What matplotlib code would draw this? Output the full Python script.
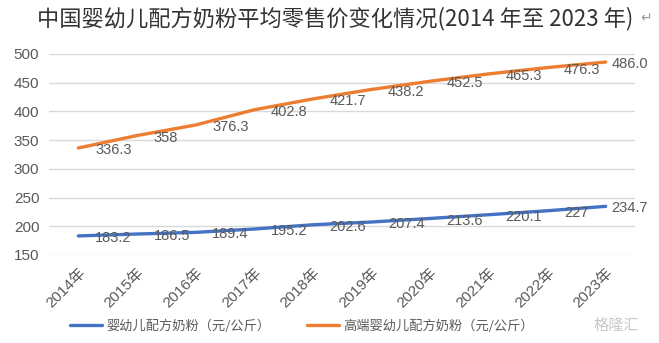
import matplotlib
matplotlib.use("Agg")
import matplotlib.pyplot as plt
import numpy as np

plt.rcParams['font.family'] = ['Liberation Sans', 'Noto Sans CJK SC', 'DejaVu Sans']

# 2014-2023 年均零售价（元/公斤）
years = ['2014年', '2015年', '2016年', '2017年', '2018年',
         '2019年', '2020年', '2021年', '2022年', '2023年']
infant = [183.2, 186.5, 189.4, 195.2, 202.6, 207.4, 213.6, 220.1, 227, 234.7]
premium = [336.3, 358, 376.3, 402.8, 421.7, 438.2, 452.5, 465.3, 476.3, 486.0]
infant_text = ['183.2', '186.5', '189.4', '195.2', '202.6',
               '207.4', '213.6', '220.1', '227', '234.7']
premium_text = ['336.3', '358', '376.3', '402.8', '421.7',
                '438.2', '452.5', '465.3', '476.3', '486.0']
series_names = ['婴幼儿配方奶粉（元/公斤）', '高端婴幼儿配方奶粉（元/公斤）']
yticks = [150, 200, 250, 300, 350, 400, 450, 500]

blue = '#4472C4'
orange = '#ED7D31'
gray = '#595959'

fig = plt.figure(figsize=(6.59, 3.43), dpi=100)
ax = fig.add_axes([0.0744, 0.2566, 0.8892, 0.586])

x = np.arange(len(years))
l1, = ax.plot(x, infant, color=blue, lw=2.4, solid_capstyle='round',
              solid_joinstyle='round', zorder=3)
l2, = ax.plot(x, premium, color=orange, lw=2.4, solid_capstyle='round',
              solid_joinstyle='round', zorder=3)

# 数据标签，放在点的右侧
for vals, texts in ((infant, infant_text), (premium, premium_text)):
    for i, (v, t) in enumerate(zip(vals, texts)):
        dx = 4 if i == len(vals) - 1 else 12
        ax.annotate(t, (i, v), xytext=(dx, -1.5), textcoords='offset points',
                    ha='left', va='center', fontsize=10.5, color=gray, zorder=4)

ax.set_xlim(-0.5, len(years) - 0.5)
ax.set_ylim(150, 500)
ax.set_yticks(yticks)
ax.set_xticks(x)
ax.set_xticklabels(years, rotation=45, ha='right', rotation_mode='anchor')
ax.tick_params(axis='both', length=0, labelsize=11, colors=gray)
ax.tick_params(axis='y', pad=7)
ax.tick_params(axis='x', pad=8)
ax.grid(axis='y', color='#d9d9d9', lw=1)
ax.set_axisbelow(True)
for s in ax.spines.values():
    s.set_visible(False)

fig.text(0.508, 0.947, '中国婴幼儿配方奶粉平均零售价变化情况(2014 年至 2023 年)',
         ha='center', va='center', fontsize=16, color='#333333',
         family=['Noto Sans CJK SC', 'DejaVu Sans'])
fig.text(0.972, 0.945, '↵', ha='left', va='center', fontsize=10, color='#9a9a9a',
         family=['DejaVu Sans'])

fig.legend([l1, l2], series_names, loc='center left',
           bbox_to_anchor=(0.088, 0.05), ncol=2, frameon=False,
           handlelength=2.4, handletextpad=0.35,
           columnspacing=2.8, labelcolor=gray,
           prop={'family': ['Noto Sans CJK SC', 'DejaVu Sans'], 'size': 9.5})

fig.text(0.935, 0.05, '格隆汇', ha='center', va='center', fontsize=11,
         color='#c8c8c8', family=['Noto Sans CJK SC'])

fig.savefig('out.png', dpi=100)
